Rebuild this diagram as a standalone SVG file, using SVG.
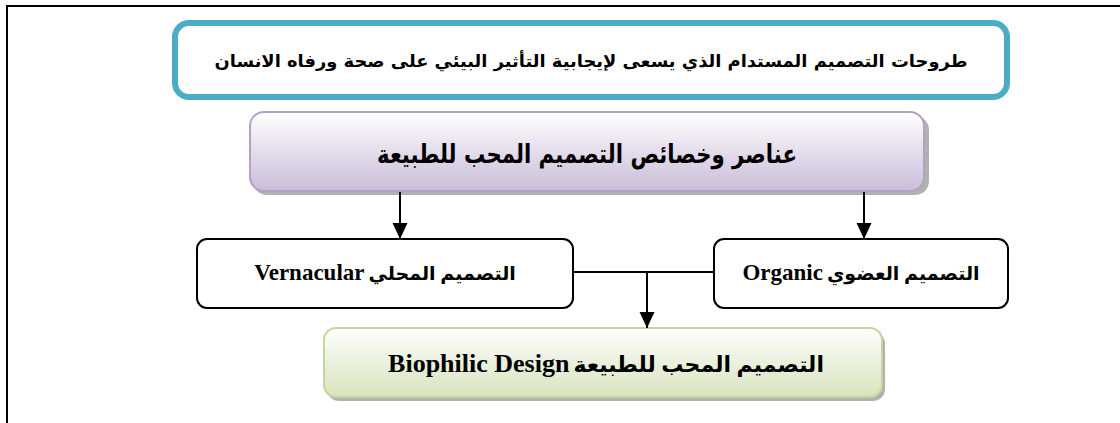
<svg xmlns="http://www.w3.org/2000/svg" width="1120" height="423" viewBox="0 0 1120 423">
  <defs>
    <linearGradient id="gPurple" x1="0" y1="0" x2="0" y2="1">
      <stop offset="0" stop-color="#ffffff"/>
      <stop offset="1" stop-color="#c9bcd8"/>
    </linearGradient>
    <linearGradient id="gGreen" x1="0" y1="0" x2="0" y2="1">
      <stop offset="0" stop-color="#ffffff"/>
      <stop offset="1" stop-color="#d6e3bc"/>
    </linearGradient>
    <marker id="arrow" markerUnits="userSpaceOnUse" markerWidth="17" markerHeight="16" refX="16" refY="7.5" orient="auto">
      <path d="M0,0 L16,7.5 L0,15 Z" fill="#000"/>
    </marker>
  </defs>
  <style>
    .frame { fill: none; stroke: #000; stroke-width: 2; }
    .plain { fill: #fff; stroke: #000; stroke-width: 2; }
    .shadow { fill: #9e9e9e; opacity: 0.8; }
    .conn { fill: none; stroke: #000; stroke-width: 2; }
    .ar { font-family: "DejaVu Sans", "Liberation Sans", sans-serif; font-weight: bold; fill: #000; }
    .mix { font-family: "Liberation Serif", "DejaVu Sans", serif; font-weight: bold; fill: #000; }
    .lat { font-size: 23px; }
    .arp { font-size: 19px; }
  </style>

  <!-- page frame -->
  <path class="frame" d="M7,423 V6 H1120"/>

  <!-- heading box -->
  <g id="node-heading">
    <rect x="175" y="23" width="832" height="74" rx="14" fill="#fff" stroke="#4bacc6" stroke-width="6"/>
    <text class="ar" x="591" y="67" font-size="17" text-anchor="middle" direction="rtl" textLength="753" lengthAdjust="spacingAndGlyphs">طروحات التصميم المستدام الذي يسعى  لإيجابية التأثير البيئي على صحة ورفاه الانسان</text>
  </g>

  <!-- elements and characteristics -->
  <g id="node-elements">
    <rect class="shadow" x="253" y="116" width="676" height="79" rx="14"/>
    <rect x="250" y="112" width="674" height="79" rx="14" fill="url(#gPurple)" stroke="#b3a2c7" stroke-width="2"/>
    <text class="ar" x="587" y="163" font-size="26" text-anchor="middle" direction="rtl" textLength="420" lengthAdjust="spacingAndGlyphs">عناصر وخصائص التصميم المحب للطبيعة</text>
  </g>

  <!-- vernacular -->
  <g id="node-vernacular">
    <rect class="plain" x="197" y="239" width="376" height="69" rx="10"/>
    <text class="mix" x="385" y="280" text-anchor="middle" direction="rtl"><tspan class="arp">التصميم المحلي</tspan> <tspan class="lat">Vernacular</tspan></text>
  </g>

  <!-- organic -->
  <g id="node-organic">
    <rect class="plain" x="714" y="239" width="294" height="69" rx="10"/>
    <text class="mix" x="861" y="280" text-anchor="middle" direction="rtl"><tspan class="arp">التصميم العضوي</tspan> <tspan class="lat">Organic</tspan></text>
  </g>

  <!-- biophilic design -->
  <g id="node-biophilic">
    <rect class="shadow" x="327" y="332" width="558" height="69" rx="12"/>
    <rect x="324" y="328" width="558" height="69" rx="12" fill="url(#gGreen)" stroke="#c3d69b" stroke-width="2"/>
    <text class="mix" x="606" y="372" text-anchor="middle" direction="rtl"><tspan font-size="22">التصميم المحب للطبيعة</tspan> <tspan font-size="26">Biophilic Design</tspan></text>
  </g>

  <!-- connectors -->
  <g id="connectors">
    <line class="conn" x1="400" y1="192" x2="400" y2="239" marker-end="url(#arrow)"/>
    <line class="conn" x1="864" y1="192" x2="864" y2="239" marker-end="url(#arrow)"/>
    <line class="conn" x1="573" y1="272" x2="714" y2="272"/>
    <line class="conn" x1="647" y1="272" x2="647" y2="328" marker-end="url(#arrow)"/>
  </g>
</svg>
